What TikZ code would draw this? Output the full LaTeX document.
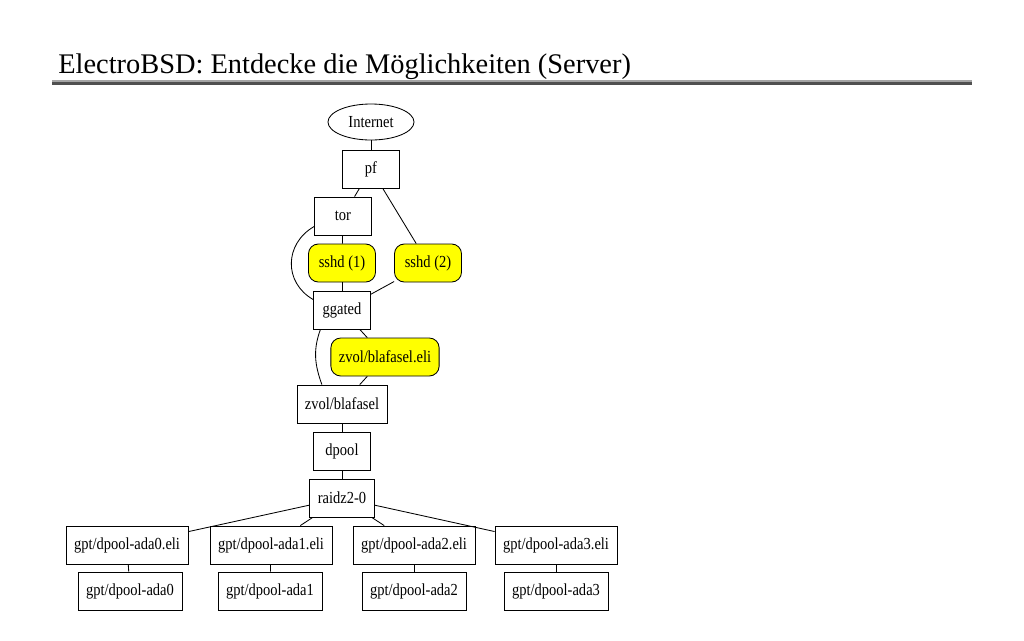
\documentclass[tikz,border=0pt]{standalone}
\usepackage{fontspec}
\setmainfont{Liberation Serif}
\newfontfamily\graphfont[FakeStretch=0.86]{Liberation Serif}
\usepackage{tikz}
\usepackage{xcolor}
\usetikzlibrary{positioning, shapes.geometric}
\definecolor{daemonyellow}{RGB}{255,255,0}
\definecolor{rulelight}{RGB}{165,165,165}
\definecolor{ruledark}{RGB}{80,80,80}

\begin{document}
\begin{tikzpicture}[
    x=0.025cm, y=-0.025cm,
    box/.style={rectangle, draw, line width=0.6pt,
                minimum width=1.425cm, minimum height=0.95cm,
                inner xsep=0.2cm, font=\graphfont\fontsize{12}{14}\selectfont,
                align=center},
    daemon/.style={box, fill=daemonyellow, rounded corners=7pt,
                   minimum width=1.675cm},
    net/.style={ellipse, draw, line width=0.6pt,
                minimum width=2.15cm, minimum height=0.9cm,
                inner sep=0pt, font=\graphfont\fontsize{12}{14}\selectfont},
    link/.style={line width=0.6pt}
]
    \useasboundingbox (0,0) rectangle (1024,640);

    % title and rule
    \node[anchor=base west, inner sep=0pt, font=\fontsize{20.2}{24}\selectfont] (title) at (58,73)
        {ElectroBSD: Entdecke die Möglichkeiten (Server)};
    \coordinate (rl) at (52,81);
    \coordinate (rr) at (972,81);
    \coordinate (rdl) at (52,83.5);
    \coordinate (rdr) at (972,83.5);
    \draw[rulelight, line width=1.5pt] (rl) -- (rr);
    \draw[ruledark, line width=1.5pt] (rdl) -- (rdr);

    \node[net] (inet) at (371,122) {Internet};
    \node[box] (pf) at (371,169) {pf};
    \node[box] (tor) at (343,216) {tor};
    \node[daemon] (ssh1) at (342,263) {sshd (1)};
    \node[daemon] (ssh2) at (428,263) {sshd (2)};
    \node[box] (ggated) at (342,310) {ggated};
    \node[daemon] (zeli) at (385,357) {zvol/blafasel.eli};
    \node[box] (zvol) at (342,404) {zvol/blafasel};
    \node[box] (dpool) at (342,451) {dpool};
    \node[box] (raidz) at (342,498) {raidz2-0};

    \node[box] (eli0) at (127,545) {gpt/dpool-ada0.eli};
    \node[box] (eli1) at (271,545) {gpt/dpool-ada1.eli};
    \node[box] (eli2) at (414,545) {gpt/dpool-ada2.eli};
    \node[box] (eli3) at (556,545) {gpt/dpool-ada3.eli};
    \node[box] (ada0) at (130,591) {gpt/dpool-ada0};
    \node[box] (ada1) at (270,591) {gpt/dpool-ada1};
    \node[box] (ada2) at (414,591) {gpt/dpool-ada2};
    \node[box] (ada3) at (556,591) {gpt/dpool-ada3};

    \draw[link] (inet) -- (pf);
    \draw[link] (pf) -- (tor);
    \draw[link] (pf) -- (ssh2);
    \draw[link] (tor) -- (ssh1);
    \draw[link] (tor.200) to[out=210, in=150, looseness=1.2] (ggated.160);
    \draw[link] (ssh1) -- (ggated);
    \draw[link] (ssh2) -- (ggated);
    \draw[link] (ggated) -- (zeli);
    \draw[link] (ggated.222) to[out=250, in=110] (zvol.136);
    \draw[link] (zeli) -- (zvol);
    \draw[link] (zvol) -- (dpool);
    \draw[link] (dpool) -- (raidz);
    \draw[link] (raidz) -- (eli0);
    \draw[link] (raidz) -- (eli1);
    \draw[link] (raidz) -- (eli2);
    \draw[link] (raidz) -- (eli3);
    \draw[link] (eli0) -- (ada0);
    \draw[link] (eli1) -- (ada1);
    \draw[link] (eli2) -- (ada2);
    \draw[link] (eli3) -- (ada3);
\end{tikzpicture}
\end{document}
